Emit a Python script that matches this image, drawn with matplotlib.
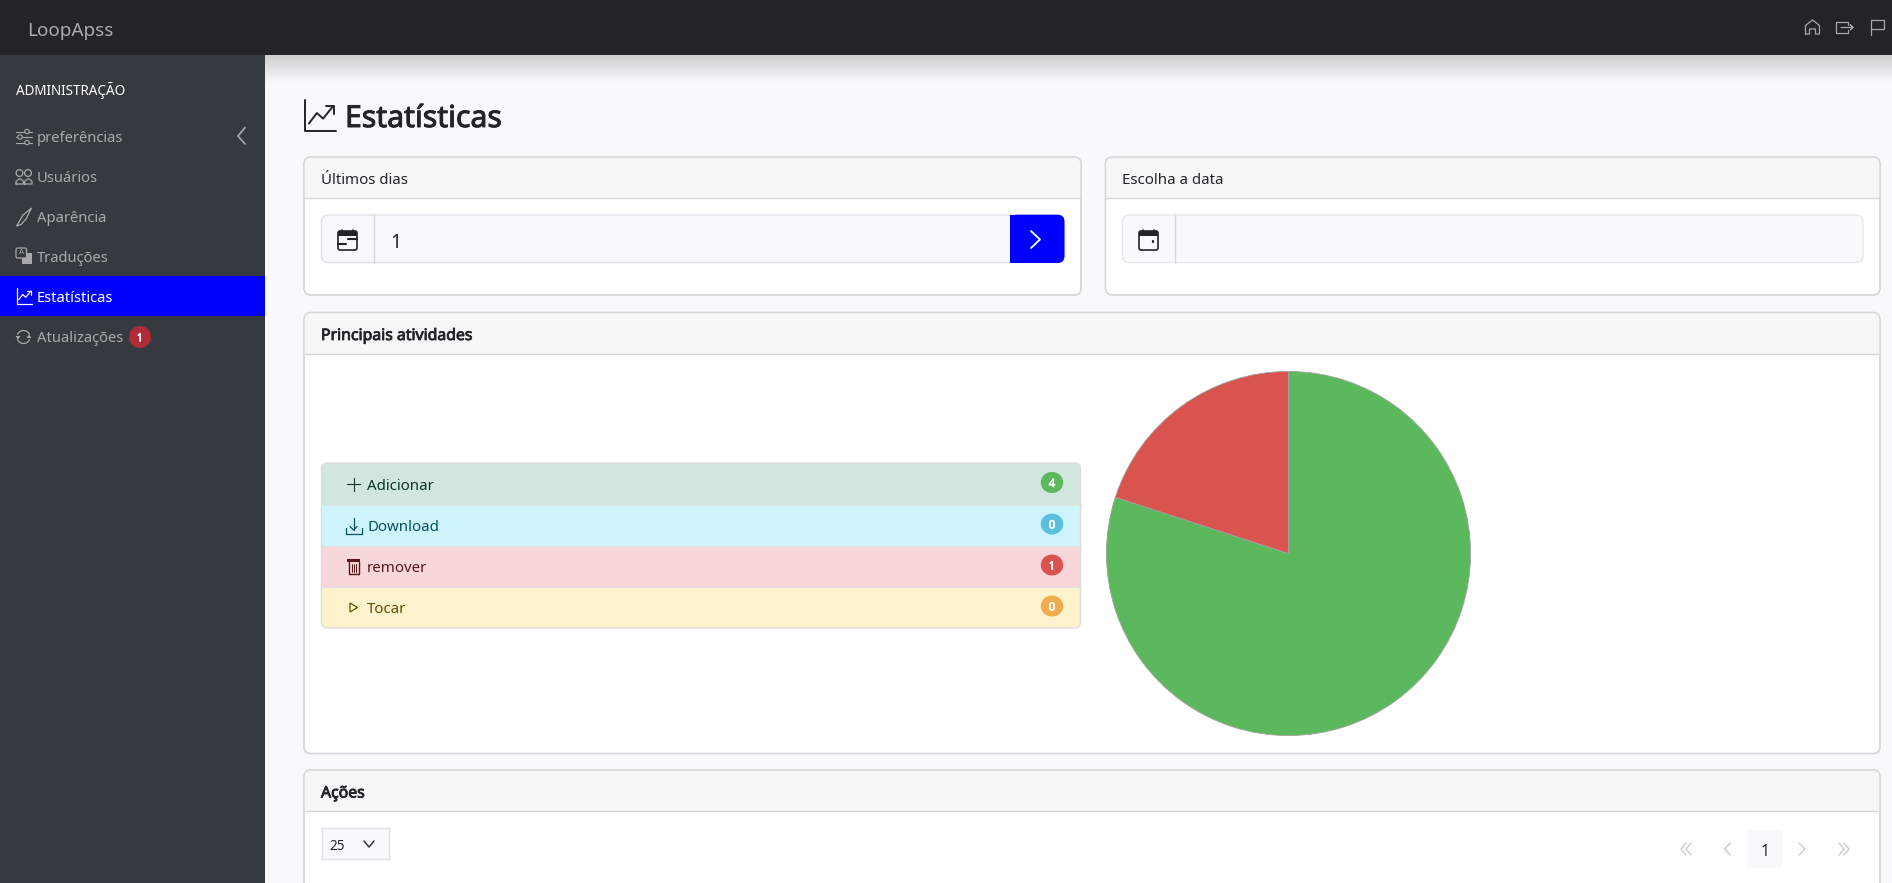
import numpy as np
import matplotlib
matplotlib.use("Agg")
import matplotlib.pyplot as plt
import matplotlib.patheffects as pe
from matplotlib.patches import FancyBboxPatch, Rectangle, Circle, Ellipse, Polygon, Arc

# ---------- data ----------
activity_labels = ["Adicionar", "Download", "remover", "Tocar"]
activity_counts = [4, 0, 1, 0]
pie_colors = ["#5cb85c", "#5bc0de", "#d9534f", "#f0ad4e"]
row_colors = ["#d1e7dd", "#cff4fc", "#f8d7da", "#fff3cd"]
row_text_colors = ["#0a3622", "#055160", "#58151c", "#664d03"]
nav_items = ["preferências", "Usuários", "Aparência", "Traduções", "Estatísticas", "Atualizações"]
active_item = "Estatísticas"
update_count = 1
last_days = 1
page_size = 25
current_page = 1

W, H = 1892, 883
FONT = "Noto Sans"
fig = plt.figure(figsize=(W / 100, H / 100), dpi=100, facecolor="#f8f9fa")
ax = fig.add_axes([0, 0, 1, 1])
ax.set_xlim(0, W)
ax.set_ylim(H, 0)
ax.axis("off")


def T(x, y, s, px=16, color="#212529", stroke=0, ha="left", z=10):
    t = ax.text(x, y, s, fontsize=px * 0.72, color=color, ha=ha, va="center_baseline", family=FONT, zorder=z)
    if stroke:
        t.set_path_effects([pe.withStroke(linewidth=stroke, foreground=color)])


def R(x0, y0, x1, y1, fc, ec="none", lw=0, z=2):
    p = Rectangle((x0, y0), x1 - x0, y1 - y0, fc=fc, ec=ec, lw=lw, zorder=z)
    ax.add_patch(p)
    return p


def RR(x0, y0, x1, y1, fc, ec="none", lw=0, r=6, z=2):
    p = FancyBboxPatch((x0, y0), x1 - x0, y1 - y0, boxstyle=f"round,pad=0,rounding_size={r}",
                       fc=fc, ec=ec, lw=lw, zorder=z)
    ax.add_patch(p)
    return p


def L(xs, ys, c, lw=1.0, z=9):
    ax.plot(xs, ys, color=c, lw=lw, zorder=z, solid_capstyle="round", solid_joinstyle="round")


def chart_icon(x, y, s, c, lw=1.0):
    L([x, x, x + s], [y, y + s, y + s], c, lw)
    L([x + s * .14, x + s * .4, x + s * .6, x + s * .92], [y + s * .76, y + s * .42, y + s * .6, y + s * .2], c, lw)
    L([x + s * .7, x + s * .94, x + s * .94], [y + s * .2, y + s * .2, y + s * .44], c, lw)


def calendar(x, y, w, h, kind):
    RR(x, y, x + w, y + h, "none", ec="#212529", lw=1.2, r=2, z=8)
    R(x, y, x + w, y + h * .24, "#212529", z=8)
    L([x + 4, x + 4], [y - 1.5, y + 1], "#212529", 1.2)
    L([x + w - 4, x + w - 4], [y - 1.5, y + 1], "#212529", 1.2)
    if kind == "range":
        L([x + w * .55, x + w], [y + h * .42, y + h * .42], "#212529", 1.5)
        L([x, x + w * .4], [y + h * .66, y + h * .66], "#212529", 1.5)
    else:
        L([x + w * .72, x + w * .72], [y + h * .5, y + h * .58], "#212529", 1.6)


BORDER = "#d6d7d8"


def card(x0, y0, x1, y1, head, title, stroke=0, inset=17):
    outer = RR(x0, y0, x1, y1, "white", ec=BORDER, lw=1.0, r=7, z=2)
    hd = R(x0, y0, x1, y0 + head, "#f7f7f7", z=3)
    hd.set_clip_path(outer)
    L([x0, x1], [y0 + head, y0 + head], BORDER, 1.0, z=4)
    RR(x0, y0, x1, y1, "none", ec=BORDER, lw=1.0, r=7, z=5)
    T(x0 + inset, y0 + head / 2 + (1 if stroke else .5), title, 15.8 if stroke else 15, "#212529", stroke)


# ---------- page chrome ----------
R(265, 55, W, H, "#f8f9fa", z=0)
rgba = np.zeros((28, 1, 4))
rgba[..., 3] = np.linspace(0.17, 0, 28)[:, None]
ax.imshow(rgba, extent=(265, W, 83, 55), aspect="auto", zorder=1, interpolation="bilinear")
ax.set_xlim(0, W)
ax.set_ylim(H, 0)
R(0, 0, W, 55, "#212529", z=3)
R(0, 55, 265, H, "#343a40", z=3)
R(0, 276, 265, 316, "#0000ff", z=4)
T(27.5, 29, "LoopApss", 19, "#a9abad")

# nav icons
ic = "#a6a8aa"
L([1805.5, 1805.5, 1812.5, 1819.5, 1819.5, 1815.5, 1815.5, 1809.5, 1809.5, 1805.5],
  [34, 25.5, 20, 25.5, 34, 34, 29, 29, 34, 34], ic, .9)
L([1848, 1848, 1836, 1836, 1848, 1848], [25, 22, 22, 33, 33, 30], ic, .9)
L([1841, 1853, 1850.5, 1853, 1850.5], [27.5, 27.5, 25, 27.5, 30], ic, .9)
L([1871, 1871], [19.5, 35], ic, .9)
L([1871, 1884, 1884, 1871], [20, 20, 29, 29], ic, .9)

# sidebar
T(16, 89, "ADMINISTRAÇÃO", 13.5, "#ffffff")
side_y = [137, 177, 217, 257, 297, 337]
for name, y in zip(nav_items, side_y):
    T(36.5, y, name, 14.8, "#ffffff" if name == active_item else "#a8aaad")
grey = "#a8aaad"
# sliders
for dy, px_ in zip((-5.5, 0, 5.5), (27, 20, 27)):
    L([16, 32], [137 + dy, 137 + dy], grey, .8)
    ax.add_patch(Circle((px_, 137 + dy), 2.2, fc="#343a40", ec=grey, lw=.8, zorder=9.5))
L([245, 238, 245], [127.5, 136, 144], grey, 1.2)
# users
for cx_ in (19.5, 28):
    ax.add_patch(Circle((cx_, 173), 3.4, fc="none", ec=grey, lw=.9, zorder=9))
for x0_ in (16, 24.5):
    L([x0_, x0_, x0_ + 3, x0_ + 5, x0_ + 7.5, x0_ + 7.5, x0_], [184, 181.5, 179, 179, 181.5, 184, 184], grey, .9)
# brush
ax.add_patch(Polygon([[31.5, 208], [23, 215], [19, 222], [16.5, 226], [21, 224.5], [26, 219]],
                     fc="none", ec=grey, lw=.9, zorder=9))
# translate
R(22, 253, 32, 264, grey, z=8)
RR(16, 248, 26.5, 258, "#343a40", ec=grey, lw=.9, r=1.5, z=9)
ax.text(21.2, 253, "A", fontsize=5.5, color=grey, ha="center", va="center", zorder=10, family=FONT)
# active
chart_icon(16.5, 288, 15.5, "#ffffff", .9)
# refresh
ax.add_patch(Arc((23.5, 337), 13, 13, theta1=20, theta2=160, ec=grey, lw=.9, zorder=9))
ax.add_patch(Arc((23.5, 337), 13, 13, theta1=200, theta2=340, ec=grey, lw=.9, zorder=9))
ax.add_patch(Polygon([[15.5, 336], [20.5, 336], [18, 339.5]], fc=grey, zorder=9))
ax.add_patch(Polygon([[26.5, 338], [31.5, 338], [29, 334.5]], fc=grey, zorder=9))
ax.add_patch(Ellipse((140, 337), 22, 22, fc="#b02a37", zorder=9))
T(140, 337.5, str(update_count), 11.5, "#ffffff", .4, ha="center")

# heading
chart_icon(304.5, 100, 31, "#212529", 1.4)
T(345, 115.5, "Estatísticas", 30.2, "#212529", .7)

# cards
card(304, 157, 1081, 295, 41, "Últimos dias")
card(1105.5, 157, 1880, 295, 41, "Escolha a data", inset=16)
card(304, 312.5, 1880, 753.5, 41, "Principais atividades", .6)
card(304, 770, 1880, 960, 41, "Ações", .6)

# input 1
RR(321.5, 215, 1064, 262.5, "#f8f9fa", ec="#dee2e6", lw=1.0, r=7, z=5)
L([374, 374], [215, 262.5], "#d6d7d8", 1.0)
T(390.5, 240, str(last_days), 19.5, "#212529")
RR(1010, 214.7, 1064.5, 263, "#0000ff", r=7, z=6)
R(1010, 214.7, 1020, 263, "#0000ff", z=6)
L([1031, 1040, 1031], [231, 239.5, 248], "#ffffff", 1.3)
calendar(338, 231, 19, 19, "range")
# input 2
RR(1122.5, 215, 1863, 262.5, "#f8f9fa", ec="#e6e8ea", lw=1.0, r=7, z=5)
L([1175, 1175], [215, 262.5], "#d6d7d8", 1.0)
calendar(1139, 231, 19, 19, "single")

# list group
lx0, lx1 = 321.5, 1080.5
row_edges = [463, 505, 546, 587, 628]
clip = RR(lx0, row_edges[0], lx1, row_edges[-1], "none", ec="#dcdcdc", lw=1.0, r=6, z=6)
for i, (lab, cnt, bg, tc, pc) in enumerate(zip(activity_labels, activity_counts, row_colors, row_text_colors, pie_colors)):
    y0, y1 = row_edges[i], row_edges[i + 1]
    r = R(lx0, y0, lx1, y1, bg, z=4)
    r.set_clip_path(clip)
    if i:
        L([lx0, lx1], [y0, y0], "#dfe3e3", .9, z=5)
    cy = (y0 + y1) / 2
    T(367, cy + .2, lab, 15, tc)
    ax.add_patch(Ellipse((1052, cy - 1.5), 22.5, 21, fc=pc, zorder=7))
    T(1052, cy - 1, str(cnt), 11.5, "#ffffff", .45, ha="center")
    ix = 353.5
    if i == 0:
        L([ix - 6.5, ix + 6.5], [cy, cy], tc, .8)
        L([ix, ix], [cy - 6.5, cy + 6.5], tc, .8)
    elif i == 1:
        L([ix - 8, ix - 8, ix + 8, ix + 8], [cy + 2, cy + 8, cy + 8, cy + 2], tc, .9)
        L([ix, ix], [cy - 8, cy + 4], tc, .9)
        L([ix - 3.5, ix, ix + 3.5], [cy + 1, cy + 4.5, cy + 1], tc, .9)
    elif i == 2:
        R(ix - 6.5, cy - 8, ix + 6.5, cy - 5, tc, z=8)
        L([ix - 5, ix - 5, ix + 5, ix + 5], [cy - 5, cy + 7, cy + 7, cy - 5], tc, 1)
        for d in (-2, 0, 2):
            L([ix + d, ix + d], [cy - 3, cy + 5], tc, .7)
    else:
        ax.add_patch(Polygon([[ix - 3.5, cy - 4.5], [ix + 4, cy], [ix - 3.5, cy + 4.5]],
                             fc="none", ec=tc, lw=.9, zorder=9))

# actions card controls
R(321.5, 828, 389, 858.5, "#f8f9fa", ec="#dee2e6", lw=1.0, z=5)
T(329.5, 844, str(page_size), 13.5, "#212529")
L([364, 369, 374], [841, 847, 841], "#343a40", 1.1)
pg = "#c9cbcd"
for x0 in (1681, 1686):
    L([x0 + 5, x0, x0 + 5], [843, 849, 855], pg, 1.0)
L([1730.5, 1724.5, 1730.5], [843, 849, 855], pg, 1.0)
R(1746.5, 830, 1782, 868, "#f8f9fa", z=5)
T(1764.5, 849.5, str(current_page), 15.5, "#212529", ha="center")
L([1799, 1805, 1799], [843, 849, 855], pg, 1.0)
for x0 in (1839, 1844):
    L([x0, x0 + 5, x0], [843, 849, 855], pg, 1.0)

# ---------- pie chart ----------
cx, cy, rad = 1288.5, 553.5, 183
pie_ax = fig.add_axes([(cx - rad) / W, 1 - (cy + rad) / H, 2 * rad / W, 2 * rad / H], zorder=5)
wedges, _ = pie_ax.pie(activity_counts, colors=pie_colors, startangle=90, counterclock=False, radius=1,
                       wedgeprops=dict(edgecolor="#a2a2a2", linewidth=.6))
pie_ax.set_xlim(-1.005, 1.005)
pie_ax.set_ylim(-1.005, 1.005)
pie_ax.patch.set_alpha(0)

fig.savefig("out.png", dpi=100, facecolor=fig.get_facecolor())
